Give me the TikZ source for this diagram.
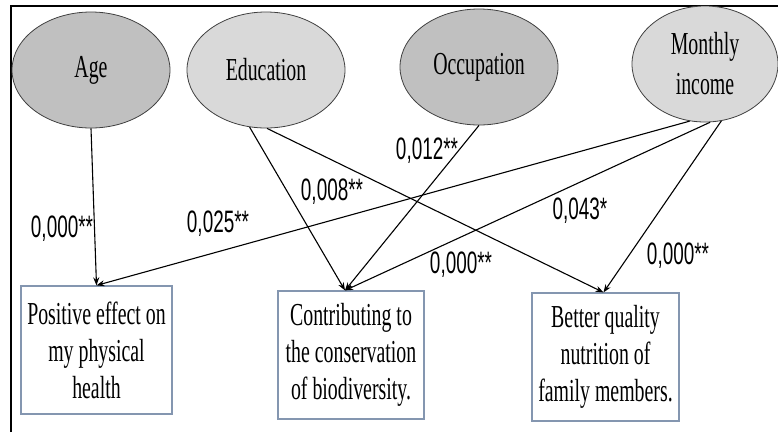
\documentclass[tikz,border=0pt]{standalone}
\usepackage{fontspec}
\usepackage{tikz}
\usetikzlibrary{shapes.geometric,arrows.meta,calc}
\setmainfont[FakeStretch=0.62]{Liberation Serif}
\newfontfamily\pvalfont[FakeStretch=0.61]{Liberation Sans}
\definecolor{darkfill}{HTML}{C0C0C0}
\definecolor{lightfill}{HTML}{D9D9D9}
\definecolor{boxline}{HTML}{8496B0}
\tikzset{
  factor/.style={ellipse, draw=black!75, line width=0.8pt, inner sep=0pt,
    minimum width=158pt, minimum height=116pt, align=center,
    font=\fontsize{32}{40}\selectfont},
  outcome/.style={draw=boxline, line width=1.2pt, inner sep=0pt,
    minimum width=151pt, minimum height=128pt, align=center,
    font=\fontsize{32}{37}\selectfont},
  pval/.style={inner sep=0pt, font=\pvalfont\fontsize{31}{33}\selectfont},
  link/.style={line width=1.1pt, -{Stealth[length=8pt,width=6pt]}}
}
\begin{document}
\begin{tikzpicture}[x=1pt,y=-1pt]
\useasboundingbox (0,0) rectangle (778,432);
\draw[line width=2.5pt] (11,432) -- (11,6) -- (778,6);

\node[factor, fill=darkfill] (age) at (91,70) {Age};
\node[factor, fill=lightfill] (edu) at (266,70) {Education};
\node[factor, fill=darkfill] (occ) at (479,67) {Occupation};
\node[factor, fill=lightfill, minimum width=146pt] (inc) at (705,64) {Monthly\\income};

\node[outcome] (health) at (96.5,350) {Positive effect on\\my physical\\health};
\node[outcome, minimum width=146pt] (bio) at (351,355) {Contributing to\\the conservation\\of biodiversity.};
\node[outcome, minimum width=147pt] (food) at (605.5,357) {Better quality\\nutrition of\\family members.};

\coordinate (bioin) at ($(bio.north)+(-6,0)$);
\coordinate (foodin) at ($(food.north)+(-2,0)$);

\draw[link] (age.south) -- (health.north);
\draw[link] (inc.255) -- (health.north);
\draw[link] (edu.254) -- (bioin);
\draw[link] (edu.271) -- (foodin);
\draw[link] (occ.south) -- (bioin);
\draw[link] (inc.275) -- (bioin);
\draw[link] (inc.286) -- (foodin);

% p-values
\node[pval] (p1) at (62,229) {0,000**};
\node[pval] (p2) at (218,224) {0,025**};
\node[pval] (p3) at (332,192) {0,008**};
\node[pval] (p4) at (427,151) {0,012**};
\node[pval] (p5) at (580,211) {0,043*};
\node[pval] (p6) at (461,265) {0,000**};
\node[pval] (p7) at (678,256) {0,000**};
\end{tikzpicture}
\end{document}
